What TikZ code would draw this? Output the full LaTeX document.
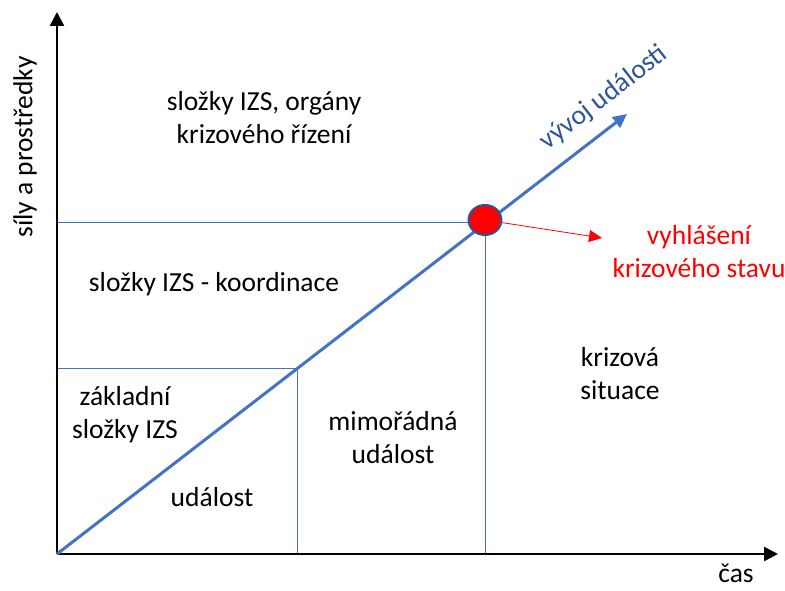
\documentclass[tikz,border=0pt]{standalone}
\usepackage{fontspec}
\setmainfont{Carlito}
\usetikzlibrary{arrows.meta,shapes.geometric}
\definecolor{lineblue}{HTML}{4472C4}
\definecolor{darkblue}{HTML}{2F5597}
\tikzset{
    lbl/.style={align=center,font=\fontsize{27.5}{33}\selectfont},
    axis/.style={draw=black,line width=2.5pt,-{Triangle[length=14pt,width=14pt]}},
    grid line/.style={draw=lineblue,line width=0.9pt}
}
\begin{document}
\begin{tikzpicture}[x=1pt,y=1pt]
        \useasboundingbox (0,0) rectangle (785,590);

        \coordinate (O) at (57,36);
        \coordinate (Ytop) at (57,578);
        \coordinate (Xend) at (778,36);
        \coordinate (Hhigh) at (57,368);
        \coordinate (Hlow) at (57,222);
        \coordinate (Vleft) at (297,36);
        \coordinate (Vright) at (485,36);
        \coordinate (Mid) at (297,222);
        \coordinate (Tip) at (627,476);
        \coordinate (Red) at (602,352);

        \path [grid line] (Hhigh) -- (485,368) -- (Vright);
        \path [grid line] (Hlow) -- (Mid) -- (Vleft);

        \path [axis] (O) -- (Ytop);
        \path [axis] (O) -- (Xend);

        \path [draw=lineblue,line width=3pt,-{Triangle[length=14pt,width=13pt]}] (O) -- (Tip);

        \node[shape=ellipse,draw=darkblue,fill=red,line width=2pt,minimum width=33pt,minimum height=30pt,inner sep=0pt] (K) at (485,370) {};
        \path [draw=red,line width=0.8pt,-{Triangle[length=13pt,width=12pt]}] (K) -- (Red);

        \node[lbl] (top) at (264,472) {složky IZS, orgány\\krizového řízení};
        \node[lbl] (koord) at (214,306) {složky IZS - koordinace};
        \node[lbl] (zakl) at (125,175) {základní\\složky IZS};
        \node[lbl] (udal) at (212,93) {událost};
        \node[lbl] (mimo) at (393,152) {mimořádná\\událost};
        \node[lbl] (kriz) at (620,216) {krizová\\situace};
        \node[lbl,text=red] (vyhl) at (699,338) {vyhlášení\\krizového stavu};
        \node[lbl,text=darkblue,rotate=37.8] (vyvoj) at (604,492) {vývoj události};
        \node[lbl,rotate=90] (sily) at (25,443) {síly a prostředky};
        \node[lbl] (cas) at (736,17) {čas};
    \end{tikzpicture}
\end{document}
